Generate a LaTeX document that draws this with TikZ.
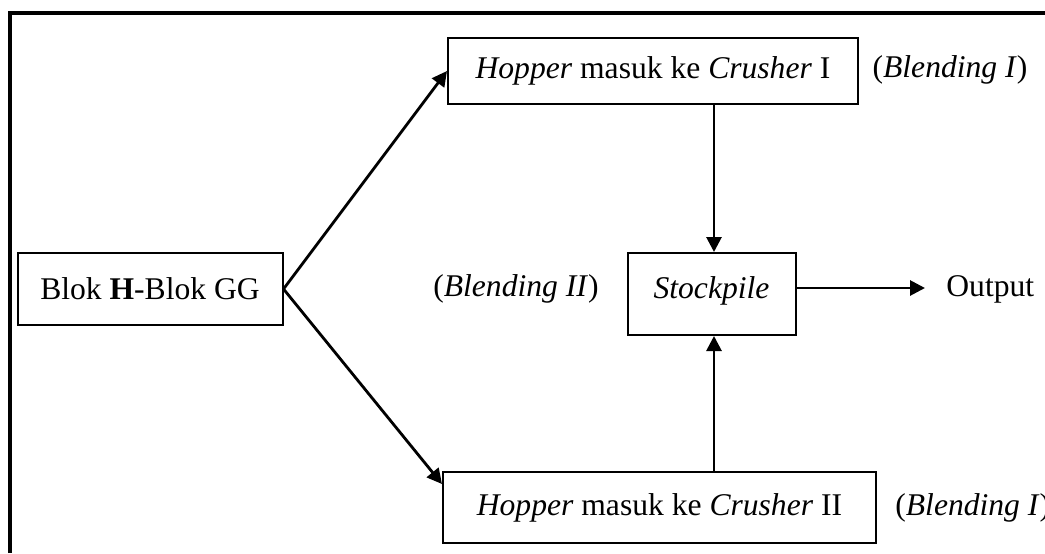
\documentclass[tikz,border=0pt]{standalone}
\usepackage{fontspec}
\setmainfont{Liberation Serif}
\usetikzlibrary{arrows.meta}
\begin{document}
\begin{tikzpicture}[x=0.5pt,y=-0.5pt,
  box/.style={draw,line width=1pt,inner sep=0pt,align=center},
  lbl/.style={inner sep=0pt},
  arr/.style={line width=1.4pt,-{Triangle[length=7.5pt,width=7.5pt]}},
  every node/.style={font=\fontsize{15.8}{19}\selectfont}]
\useasboundingbox (0,0) rectangle (1045,553);
\draw[line width=2pt] (9.5,553) -- (9.5,12.5) -- (1045,12.5);
\node[box,minimum width=132.5pt,minimum height=36pt] (blok) at (150,289) {Blok \textbf{H}-Blok GG};
\node[box,minimum width=205pt,minimum height=33pt] (h1) at (653,71) {\textit{Hopper} masuk ke \textit{Crusher} I};
\node[box,minimum width=84pt,inner ysep=0pt,text height=22.5pt,text depth=18.5pt] (st) at (711.5,294) {\textit{Stockpile}};
\node[box,minimum width=216.5pt,minimum height=35.5pt] (h2) at (659.5,507.5) {\textit{Hopper} masuk ke \textit{Crusher} II};
\node[lbl] (b1) at (950,70) {(\textit{Blending I})};
\node[lbl] (b2) at (516,289) {(\textit{Blending II})};
\node[lbl,anchor=west] (b3) at (895,508) {(\textit{Blending I})};
\node[lbl,anchor=west] (out) at (946,289) {Output};
\draw[arr] (blok.east) -- (h1.west|-0,71);
\draw[arr] (blok.east) -- (h2.west|-0,484);
\draw[arr] (h1.south-|714,0) -- (st.north-|714,0);
\draw[arr] (h2.north-|714,0) -- (st.south-|714,0);
\draw[arr] (st.east|-0,288) -- ([xshift=-10.5pt]out.west|-0,288);
\end{tikzpicture}
\end{document}
